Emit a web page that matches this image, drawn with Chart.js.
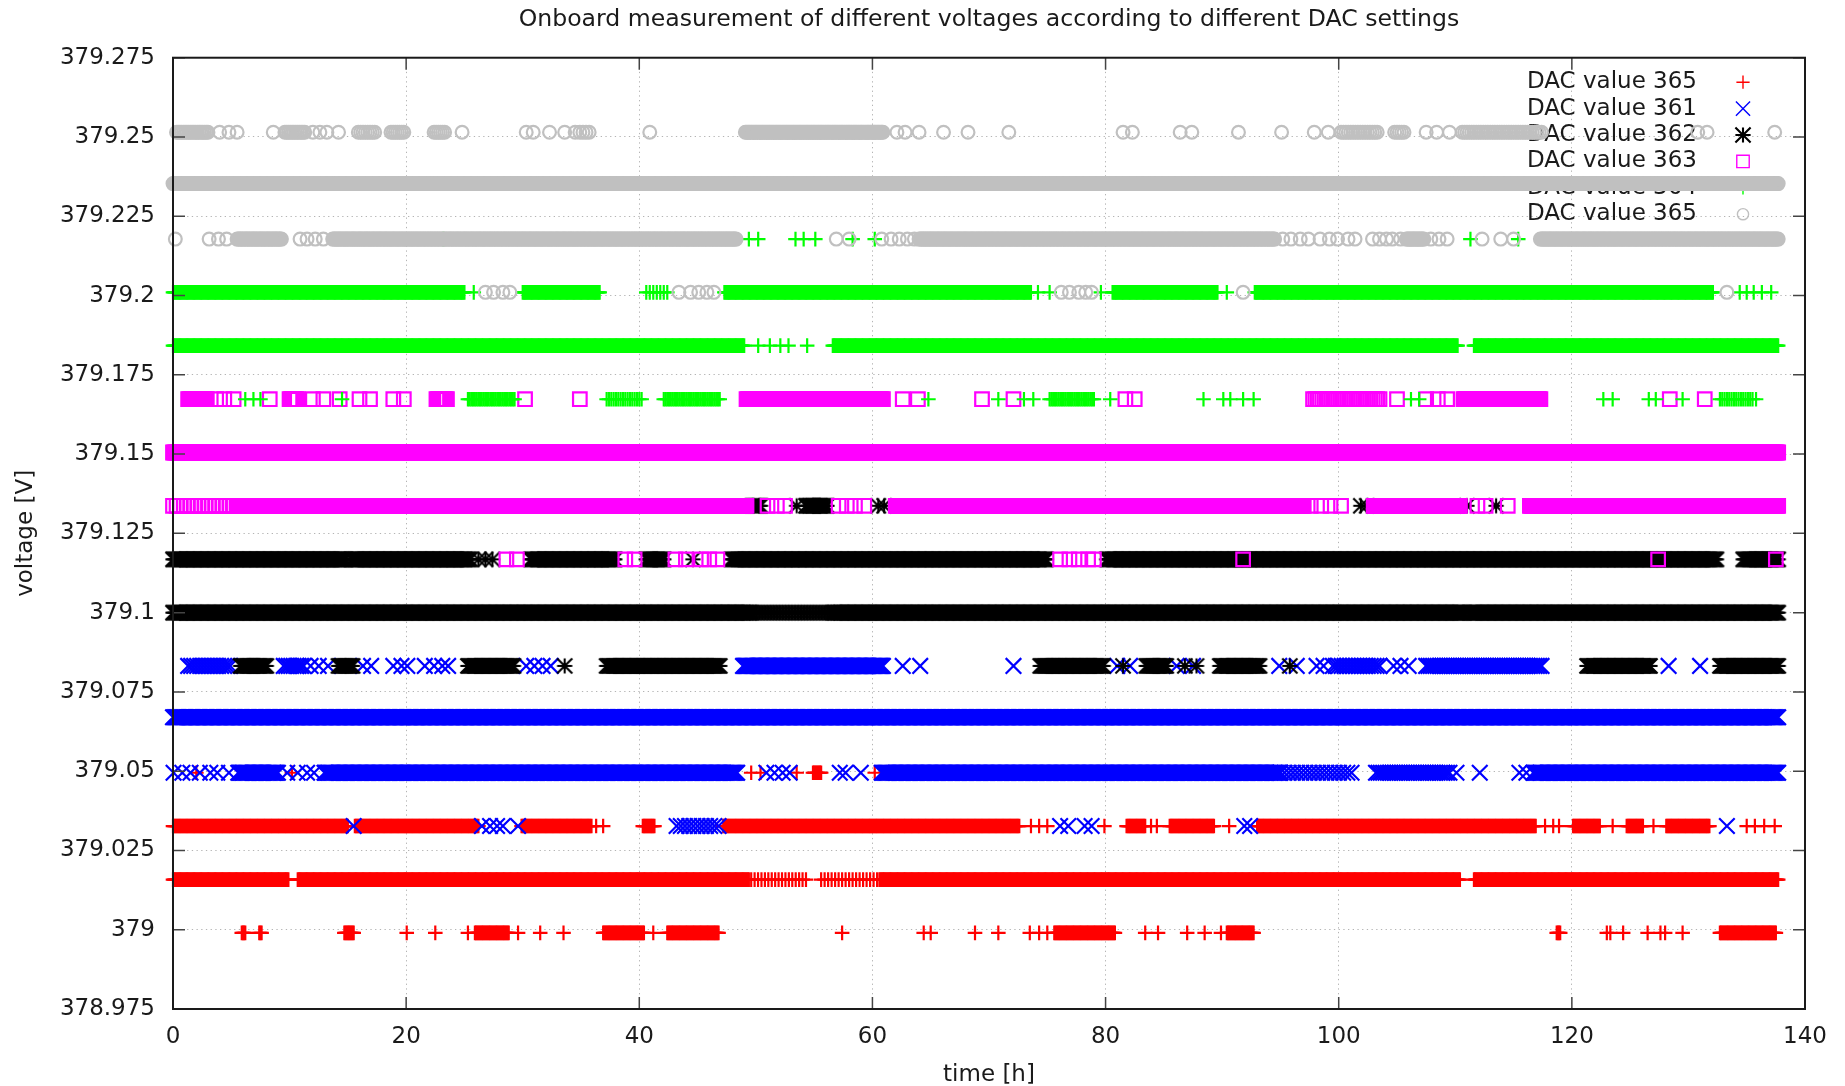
<!DOCTYPE html>
<html>
<head>
<meta charset="utf-8">
<script src="https://cdn.jsdelivr.net/npm/chart.js@4/dist/chart.umd.min.js"></script>
<style>
html,body{margin:0;padding:0;background:#fff;}
canvas{display:block;}
</style>
</head>
<body>
<canvas id="c" width="1845" height="1086"></canvas>
<script>
// ---------------- DATA ----------------
// Quantized voltage levels seen in the plot (V), index 0 = lowest
const levels = [378.999, 379.0158, 379.0327, 379.0495, 379.0670, 379.0832, 379.1000, 379.1168,
                379.1337, 379.1505, 379.1673, 379.1842, 379.2010, 379.2178, 379.2353, 379.2515];
// measurement sampling interval (h) used for densely sampled runs
const sampleStepH = 0.1;

const seriesLabels = ['DAC value 365', 'DAC value 361', 'DAC value 362', 'DAC value 363', 'DAC value 364', 'DAC value 365'];
const xTicks = [0, 20, 40, 60, 80, 100, 120, 140];
const xTickLabels = ['0', '20', '40', '60', '80', '100', '120', '140'];
const yTicks = [378.975, 379, 379.025, 379.05, 379.075, 379.1, 379.125, 379.15, 379.175, 379.2, 379.225, 379.25, 379.275];
const yTickLabels = ['378.975', '379', '379.025', '379.05', '379.075', '379.1', '379.125', '379.15', '379.175', '379.2', '379.225', '379.25', '379.275'];

// Observations: [levelIndex, time_h] single reading, or [levelIndex, from_h, to_h, (interval_h)] run of readings
const dac365a = [
  [0,5.9,6.2],[0,7.4,7.6],[0,14.7,15.5],[0,20.05],[0,22.5],[0,25.3],[0,25.9,28.8],[0,29.6],[0,31.5],[0,33.5],
  [0,36.9,40.4],[0,41.2],[0,42.4,46.8],[0,57.4],[0,64.4],[0,65.0],[0,68.8],[0,70.8],[0,73.5],[0,74.3],[0,75.0],
  [0,75.6,80.8],[0,83.4],[0,84.5],[0,87.0],[0,88.5],[0,89.9],[0,90.4,92.7],[0,118.7,119.0],[0,123.0],[0,123.3],
  [0,124.4],[0,126.5],[0,127.6],[0,128.0],[0,129.5],[0,132.7,137.5],
  [1,0,9.9],[1,10.7,49.4],[1,49.6,54.3,0.3],[1,55.6,60.4,0.3],[1,60.6,110.4],[1,111.6,137.7],
  [2,0,15.0],[2,15.6,26.2],[2,29.9,35.9],[2,36.3],[2,36.9],[2,40.3,41.3],[2,47.2,72.6],
  [2,73.6],[2,74.3],[2,75.0],[2,79.9],[2,81.8,83.4],[2,83.9],[2,84.4],[2,85.5,89.3],[2,90.6],[2,93.0,116.9],
  [2,117.7],[2,118.4],[2,118.9],[2,120.1,122.4],[2,123.5],[2,124.7,126.1],[2,127.0],[2,128.1,131.8],
  [2,135.0],[2,135.7],[2,136.5],[2,137.4],
  [3,2.0],[3,10.2],[3,49.6],[3,50.4],[3,53.5],[3,54.9,55.6],[3,60.2]
];
const dac361 = [
  [2,15.5],[2,26.5],[2,27.2],[2,27.8],[2,28.3],[2,29.6],[2,43.2,46.8,0.35],[2,76.1],[2,76.8],[2,78.2],[2,78.8],
  [2,91.9],[2,92.4],[2,133.3],
  [3,0.05],[3,0.8],[3,1.5],[3,2.3],[3,3.2],[3,3.8],[3,4.8],[3,5.6,9.0],[3,9.8],[3,10.7],[3,11.5],[3,12.1],
  [3,13.0,48.4],[3,50.9],[3,51.6],[3,52.3],[3,52.9],[3,57.2],[3,57.7],[3,59.0],[3,60.8,95.0],[3,95.0,101.1,0.35],
  [3,103.2,109.5,0.2],[3,110.1],[3,112.1],[3,115.5],[3,116.1],[3,116.7,137.7],
  [4,0,137.7],
  [5,1.3,4.9,0.25],[5,9.5,11.2,0.2],[5,11.8],[5,12.5],[5,13.3],[5,16.3],[5,17.0],[5,18.9],[5,19.6],[5,20.1],
  [5,21.6],[5,22.4],[5,23.1],[5,23.6],[5,30.3],[5,31.0],[5,31.7],[5,32.4],[5,48.9,60.9],[5,62.6],[5,64.1],
  [5,72.1],[5,81.0],[5,82.1],[5,86.1],[5,87.5],[5,94.9],[5,96.4],[5,98.1],[5,98.7],[5,99.5,103.5,0.25],
  [5,104.7],[5,105.3],[5,106.0],[5,107.5,117.4,0.2],[5,128.3],[5,131.0]
];
const dac362 = [
  [5,5.8,8.0],[5,14.2,15.4],[5,25.3,29.2],[5,33.6],[5,37.2,46.9],[5,74.4,79.8],[5,81.5],[5,83.5,85.2],[5,86.8],
  [5,87.8],[5,89.8,93.2],[5,95.8],[5,121.3,126.7],[5,132.7,137.7],
  [6,0,49.6],[6,49.8,56.4,0.25],[6,56.6,110.8],[6,111.2,137.7],
  [7,0,14.8],[7,15.3,25.5],[7,26.2],[7,26.8],[7,27.4],[7,30.7,37.9],[7,40.6,42.1],[7,44.6],[7,47.9,74.9],
  [7,80.1,132.4],[7,134.7,137.7],
  [8,49.7,50.4],[8,53.5],[8,54.3,56.1],[8,60.5],[8,61.0],[8,101.9],[8,102.4],[8,111.0],[8,113.5]
];
const dac363 = [
  [7,28.6],[7,29.5],[7,38.8],[7,39.6],[7,43.1],[7,44.0],[7,45.3],[7,46.0],[7,46.7],[7,76.1],[7,76.9],[7,77.7],
  [7,78.5],[7,79.0],[7,91.8],[7,127.4],[7,137.5],
  [8,0,5.2,0.3],[8,5.5,49.2],[8,51.0],[8,51.8],[8,52.5],[8,57.1],[8,57.8],[8,58.5],[8,59.3],[8,62.0,97.0],
  [8,97.6],[8,98.5],[8,99.3],[8,100.2],[8,103.0,110.4],[8,111.9],[8,112.6],[8,114.5],[8,116.4,137.7],
  [9,0,137.7],
  [10,1.3,2.9],[10,3.7],[10,4.4],[10,5.2],[10,8.3],[10,10.0,10.7],[10,12.0],[10,12.9],[10,14.3],[10,16.0],
  [10,16.9],[10,18.9],[10,19.8],[10,22.6,23.5],[10,30.2],[10,34.9],[10,49.2,60.9],[10,62.6],[10,63.9],
  [10,69.4],[10,72.1],[10,81.7],[10,82.5],[10,97.8,103.5,0.2],[10,105.0],[10,107.5],[10,108.5],[10,109.3],
  [10,110.7,117.3],[10,128.4],[10,131.4]
];
const dac364 = [
  [10,6.2],[10,6.9],[10,7.5],[10,14.5],[10,25.3,29.3,0.15],[10,37.2,40.2,0.2],[10,42.1,46.9,0.15],[10,64.8],
  [10,70.8],[10,73.0],[10,73.8],[10,75.2,79.0,0.15],[10,80.4],[10,88.4],[10,90.1],[10,90.7],[10,91.8],
  [10,92.7],[10,106.2],[10,106.9],[10,122.7],[10,123.5],[10,126.6],[10,127.2],[10,129.5],[10,132.7,135.5,0.2],
  [10,135.8],
  [11,0,49.0],[11,50.2],[11,51.2],[11,52.1],[11,52.8],[11,54.4],[11,56.6,110.2],[11,111.6,137.7],
  [12,0,25.0],[12,25.8],[12,30.0,36.6],[12,40.6,42.4,0.3],[12,47.3,73.6],[12,74.2],[12,75.2],[12,79.6],
  [12,80.6,89.6],[12,90.4],[12,92.8,132.1],[12,134.4],[12,135.0],[12,135.6],
  [12,136.3],[12,137.1],
  [13,23.2],[13,49.4],[13,50.2],[13,53.4],[13,54.1],[13,55.1],[13,58.3],[13,60.2],[13,111.3],[13,115.4]
];
const dac365b = [
  [12,26.8],[12,27.5],[12,28.3],[12,28.9],[12,43.4],[12,44.4],[12,45.1],[12,45.8],[12,46.4],[12,76.2],
  [12,76.9],[12,77.7],[12,78.3],[12,78.8],[12,91.8],[12,133.3],
  [13,0.2],[13,3.1],[13,3.9],[13,4.6],[13,5.5,9.3],[13,10.9],[13,11.5],[13,12.2],[13,12.9],[13,13.7,48.3],
  [13,56.9],[13,58.0],[13,60.8],[13,61.6],[13,62.3],[13,63.0],[13,63.6],[13,64.0,94.5],[13,95.2],[13,95.9],
  [13,96.7],[13,97.4],[13,98.4],[13,99.2],[13,99.9],[13,100.8],[13,101.4],[13,102.9],[13,103.5],[13,104.1],
  [13,104.6],[13,105.3],[13,105.8,107.3],[13,107.9],[13,108.6],[13,109.3],[13,112.3],[13,113.9],[13,115.0],
  [13,117.3,137.7],
  [14,0,137.7],
  [15,0.3,3.0,0.15],[15,4.0],[15,4.8],[15,5.5],[15,8.6],[15,9.6,11.3,0.15],[15,12.0],[15,12.6],[15,13.2],
  [15,14.2],[15,15.9,17.3,0.2],[15,18.7,19.8,0.2],[15,22.4,23.3,0.2],[15,24.8],[15,30.3],[15,30.9],[15,32.3],
  [15,33.6],[15,34.5],[15,34.9,35.7,0.25],[15,40.9],[15,49.1,60.9],[15,62.1],[15,62.8],[15,64.0],[15,66.1],
  [15,68.2],[15,71.7],[15,81.5],[15,82.3],[15,86.4],[15,87.4],[15,91.4],[15,95.1],[15,97.9],[15,99.1],
  [15,100.2,103.3,0.2],[15,104.8,105.6,0.2],[15,107.5],[15,108.4],[15,109.5],[15,110.6,117.4,0.2],
  [15,130.8],[15,131.6],[15,137.4]
];

// ---------------- BUILD ----------------
function expand(obs) {
  const out = [];
  for (const r of obs) {
    const y = levels[r[0]];
    if (r.length === 2) { out.push({x: r[1], y}); continue; }
    const step = r[3] || sampleStepH;
    const n = Math.max(0, Math.round((r[2] - r[1]) / step));
    for (let i = 0; i <= n; i++) out.push({x: n ? r[1] + (r[2] - r[1]) * i / n : r[1], y});
  }
  return out;
}

const FONT = 'DejaVu Sans';
const TXT = '#1a1a1a';
const MARK_LW = 2.2;

// gnuplot-like "*" marker (plus and cross of equal extent)
const starMarker = (() => {
  const c = document.createElement('canvas');
  c.width = 22; c.height = 22;
  const g = c.getContext('2d');
  const h = 7.6, m = 11;
  g.strokeStyle = '#000'; g.lineWidth = 2.1;
  g.beginPath();
  g.moveTo(m - h, m); g.lineTo(m + h, m);
  g.moveTo(m, m - h); g.lineTo(m, m + h);
  g.moveTo(m - h, m - h); g.lineTo(m + h, m + h);
  g.moveTo(m - h, m + h); g.lineTo(m + h, m - h);
  g.stroke();
  return c;
})();

function mkDs(label, obs, style, color, radius, order) {
  return {
    label, data: expand(obs), order,
    pointStyle: style, pointRadius: radius, pointHoverRadius: radius,
    pointBorderWidth: MARK_LW, pointBorderColor: color, pointBackgroundColor: 'rgba(0,0,0,0)',
    borderColor: color, backgroundColor: 'rgba(0,0,0,0)', showLine: false, clip: false
  };
}

const datasets = [
  mkDs(seriesLabels[0], dac365a, 'cross', '#ff0000', 7.3, 5),
  mkDs(seriesLabels[1], dac361, 'crossRot', '#0000ff', 11, 4),
  mkDs(seriesLabels[2], dac362, starMarker, '#000000', 7.6, 3),
  mkDs(seriesLabels[3], dac363, 'rect', '#ff00ff', 9.6, 2),
  mkDs(seriesLabels[4], dac364, 'cross', '#00ff00', 7.3, 1),
  mkDs(seriesLabels[5], dac365b, 'circle', '#c0c0c0', 6.4, 0)
];
const keyMarkRadius = [6.6, 10, 7, 8.8, 6.6, 5.6];

// key drawn underneath the data, like gnuplot
const keyPlugin = {
  id: 'gpKey',
  beforeDatasetsDraw(chart) {
    const ctx = chart.ctx;
    const textRight = 1697, markX = 1743, y0 = 82.2, dy = 26.4;
    ctx.save();
    ctx.font = '23px "' + FONT + '"';
    ctx.textAlign = 'right';
    ctx.textBaseline = 'middle';
    chart.data.datasets.forEach((d, i) => {
      const y = y0 + i * dy;
      ctx.fillStyle = TXT;
      ctx.fillText(d.label, textRight, y);
      ctx.fillStyle = 'rgba(0,0,0,0)';
      ctx.strokeStyle = d.pointBorderColor;
      ctx.lineWidth = 1.4;
      Chart.helpers.drawPoint(ctx, {pointStyle: d.pointStyle, radius: keyMarkRadius[i], borderWidth: 1.4, rotation: 0}, markX, y);
    });
    ctx.restore();
  }
};

// border box and inward tics on all four sides
const framePlugin = {
  id: 'gpFrame',
  afterDatasetsDraw(chart) {
    const {ctx, chartArea: a, scales: {x, y}} = chart;
    const tl = 12;
    ctx.save();
    ctx.strokeStyle = '#444';
    ctx.lineWidth = 1.5;
    ctx.beginPath();
    xTicks.forEach(v => {
      const p = x.getPixelForValue(v);
      ctx.moveTo(p, a.bottom); ctx.lineTo(p, a.bottom - tl);
      ctx.moveTo(p, a.top); ctx.lineTo(p, a.top + tl);
    });
    yTicks.forEach(v => {
      const p = y.getPixelForValue(v);
      ctx.moveTo(a.left, p); ctx.lineTo(a.left + tl, p);
      ctx.moveTo(a.right, p); ctx.lineTo(a.right - tl, p);
    });
    ctx.stroke();
    ctx.strokeStyle = '#1a1a1a';
    ctx.lineWidth = 2;
    ctx.strokeRect(a.left, a.top, a.right - a.left, a.bottom - a.top);
    ctx.restore();
  }
};

const tickFont = {family: FONT, size: 23};

new Chart(document.getElementById('c'), {
  type: 'scatter',
  data: {datasets},
  plugins: [keyPlugin, framePlugin],
  options: {
    responsive: false,
    devicePixelRatio: 1,
    animation: false,
    events: [],
    parsing: false,
    normalized: true,
    layout: {padding: {left: 0, right: 40, top: 0, bottom: 0}},
    plugins: {
      legend: {display: false},
      tooltip: {enabled: false},
      title: {
        display: true, fullSize: false,
        text: 'Onboard measurement of different voltages according to different DAC settings',
        color: TXT, font: {family: FONT, size: 23.6, weight: 'normal'},
        padding: {top: 6, bottom: 23.4}
      }
    },
    scales: {
      x: {
        type: 'linear', min: 0, max: 140,
        afterBuildTicks: s => { s.ticks = xTicks.map(v => ({value: v})); },
        afterFit: s => { s.height = 77; },
        grid: {color: '#b4b4b4', lineWidth: 1, drawTicks: false},
        border: {display: false, dash: [1.3, 3.4]},
        ticks: {padding: 14, color: TXT, font: tickFont, maxRotation: 0, autoSkip: false,
                callback: (v, i) => xTickLabels[i]},
        title: {display: true, text: 'time [h]', color: TXT, font: tickFont, padding: {top: 0, bottom: -3}}
      },
      y: {
        type: 'linear', min: 378.975, max: 379.275,
        afterBuildTicks: s => { s.ticks = yTicks.map(v => ({value: v})); },
        afterFit: s => { s.width = 173; },
        grid: {color: '#b4b4b4', lineWidth: 1, drawTicks: false},
        border: {display: false, dash: [1.3, 3.4]},
        ticks: {padding: 18, color: TXT, font: tickFont, autoSkip: false,
                callback: (v, i) => yTickLabels[i]},
        title: {display: true, text: 'voltage [V]', color: TXT, font: tickFont, padding: {top: 12, bottom: 0}}
      }
    }
  }
});
</script>
</body>
</html>
